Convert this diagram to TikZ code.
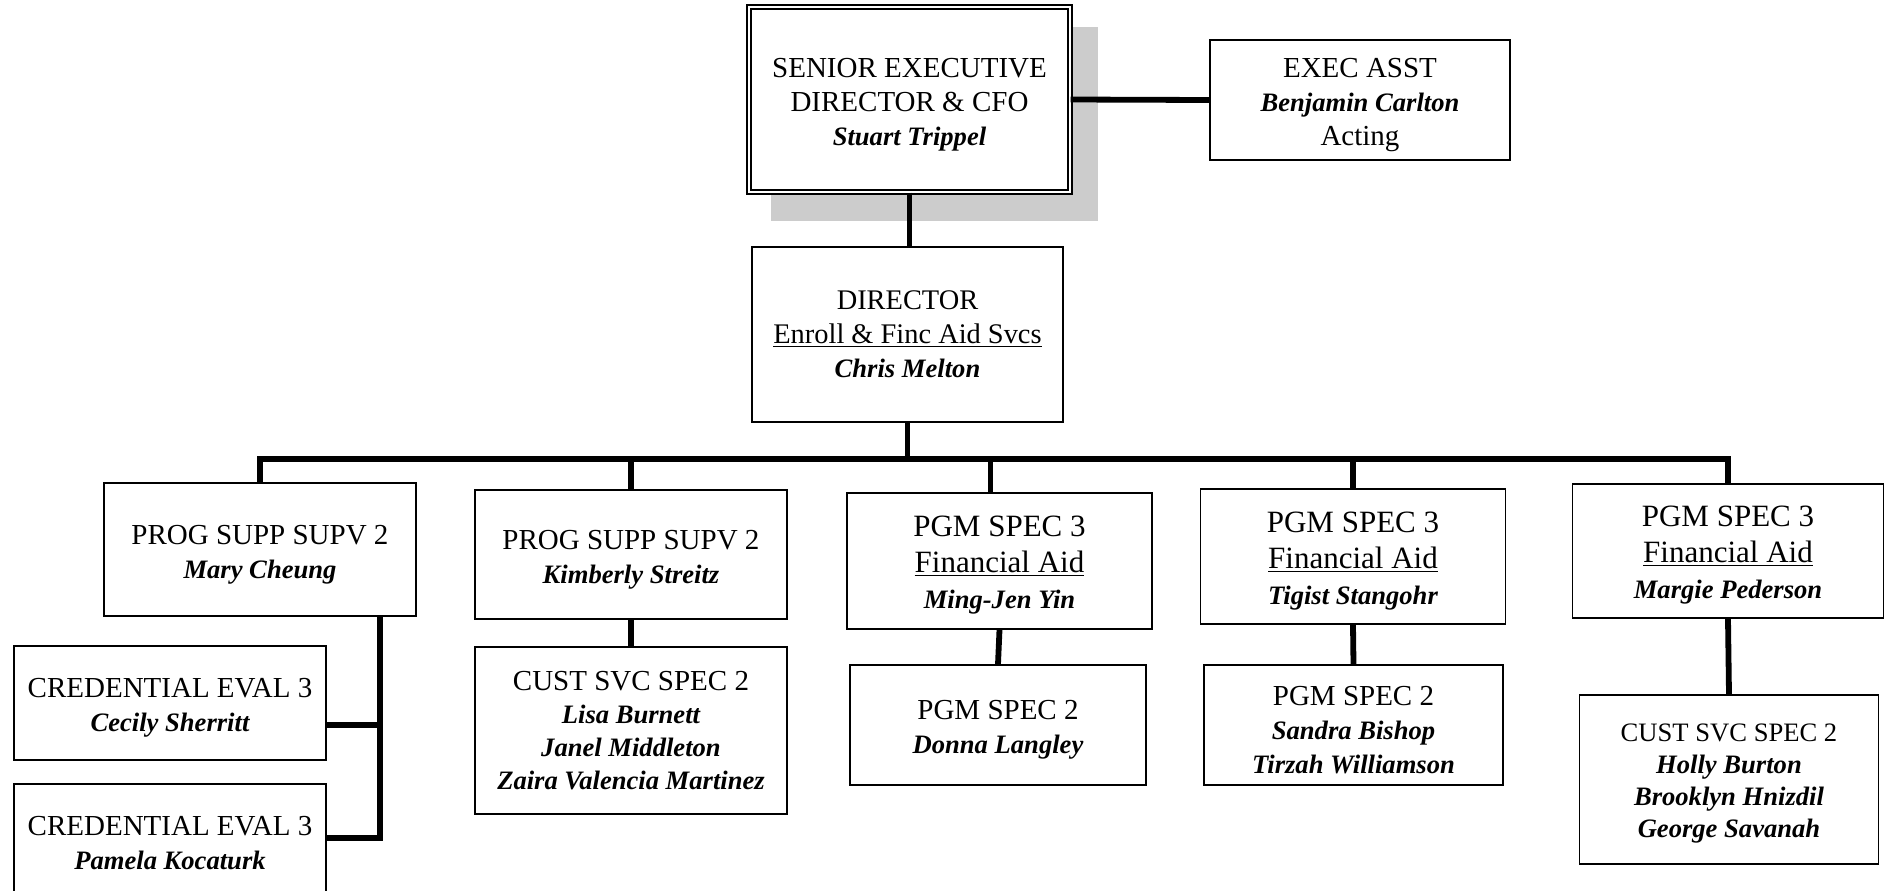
\documentclass[tikz,border=0pt]{standalone}
\usepackage{fontspec}
\setmainfont{Liberation Serif}
\definecolor{shadowgray}{RGB}{204,204,204}
\newcommand{\nm}[1]{{\fontsize{13.3}{16}\selectfont\bfseries\itshape #1}}
\newcommand{\dn}{\rule{0pt}{14.5pt}}
\begin{document}
\begin{tikzpicture}[x=0.5pt,y=-0.5pt,
  box/.style={draw, line width=0.8pt, align=center, inner sep=0pt,
    font=\fontsize{14.5}{17}\selectfont},
  dbox/.style={box, line width=0.7pt, double, double distance=1.2pt},
  conn/.style={line width=2.9pt}]
\useasboundingbox (0,0) rectangle (1892,890);
% shadow
\fill[shadowgray] (771,27) rectangle (1098,221);
% nodes
\node[dbox, fill=white, minimum width=160.5pt, minimum height=92.5pt] (sen) at (909.5,99.5)
  {\dn SENIOR EXECUTIVE\\DIRECTOR \& CFO\\\nm{Stuart Trippel}};
\node[box, minimum width=150pt, minimum height=60pt] (exec) at (1360,100)
  {\dn EXEC ASST\\\nm{Benjamin Carlton}\\Acting};
\node[box, minimum width=155.5pt, minimum height=87.5pt, font=\fontsize{14.2}{17}\selectfont] (dir) at (907.5,334.5)
  {DIRECTOR\\\underline{Enroll \& Finc Aid Svcs}\\\nm{Chris Melton}};
\node[box, minimum width=156pt, minimum height=66.5pt] (p1) at (260,549.5)
  {\dn PROG SUPP SUPV 2\\\nm{Mary Cheung}};
\node[box, minimum width=156pt, minimum height=64.5pt] (p2) at (631,554.5)
  {\dn PROG SUPP SUPV 2\\\nm{Kimberly Streitz}};
\node[box, minimum width=152.5pt, minimum height=68pt, font=\fontsize{15.5}{18}\selectfont] (p3) at (999.5,561)
  {\dn PGM SPEC 3\\\underline{Financial Aid}\\\nm{Ming-Jen Yin}};
\node[box, minimum width=152.5pt, minimum height=67.5pt, font=\fontsize{15.5}{18}\selectfont] (p4) at (1353,556.5)
  {\dn PGM SPEC 3\\\underline{Financial Aid}\\\nm{Tigist Stangohr}};
\node[box, minimum width=155.5pt, minimum height=67pt, font=\fontsize{15.5}{18}\selectfont] (p5) at (1728,551)
  {\dn PGM SPEC 3\\\underline{Financial Aid}\\\nm{Margie Pederson}};
\node[box, minimum width=156pt, minimum height=57pt] (cr1) at (170,703)
  {\dn CREDENTIAL EVAL 3\\\nm{Cecily Sherritt}};
\node[box, minimum width=156pt, minimum height=54pt] (cr2) at (170,838)
  {\dn CREDENTIAL EVAL 3\\\nm{Pamela Kocaturk}};
\node[box, minimum width=156pt, minimum height=83.5pt, font=\fontsize{14.5}{16.5}\selectfont] (cu1) at (631,730.5)
  {CUST SVC SPEC 2\\\nm{Lisa Burnett}\\\nm{Janel Middleton}\\\nm{Zaira Valencia Martinez}};
\node[box, minimum width=148pt, minimum height=60pt] (pg2a) at (998,725)
  {\dn PGM SPEC 2\\\nm{Donna Langley}};
\node[box, minimum width=149.5pt, minimum height=60pt] (pg2b) at (1353.5,725)
  {\dn PGM SPEC 2\\\nm{Sandra Bishop}\\\nm{Tirzah Williamson}};
\node[box, minimum width=149.5pt, minimum height=84.5pt, font=\fontsize{13.3}{16}\selectfont] (cu2) at (1729,779.5)
  {\rule{0pt}{12.5pt}CUST SVC SPEC 2\\\nm{Holly Burton}\\\nm{Brooklyn Hnizdil}\\\nm{George Savanah}};
% helper coordinates
\coordinate (bus) at (0,459);
\coordinate (spine) at (380,617);
\coordinate (c1) at (326,725);
% connectors
\draw[conn] (sen.east) -- (exec.west);
\draw[conn] (sen.south) -- (sen.south |- dir.north);
\draw[conn] (dir.south) -- (dir.south |- bus);
\draw[conn] (p1.north) -- (p1.north |- bus) -- (p5.north |- bus) -- (p5.north);
\draw[conn] (p2.north) -- (p2.north |- bus);
\draw[conn] ([xshift=-4.5pt]p3.north) -- ([xshift=-4.5pt]p3.north |- bus);
\draw[conn] (p4.north) -- (p4.north |- bus);
\draw[conn] (spine) -- (spine |- cr2.east) -- (cr2.east);
\draw[conn] (c1) -- (c1 -| spine);
\draw[conn] (p2.south) -- (cu1.north);
\draw[conn] (p3.south) -- (pg2a.north);
\draw[conn] (p4.south) -- (pg2b.north);
\draw[conn] (p5.south) -- (cu2.north);
\end{tikzpicture}
\end{document}
